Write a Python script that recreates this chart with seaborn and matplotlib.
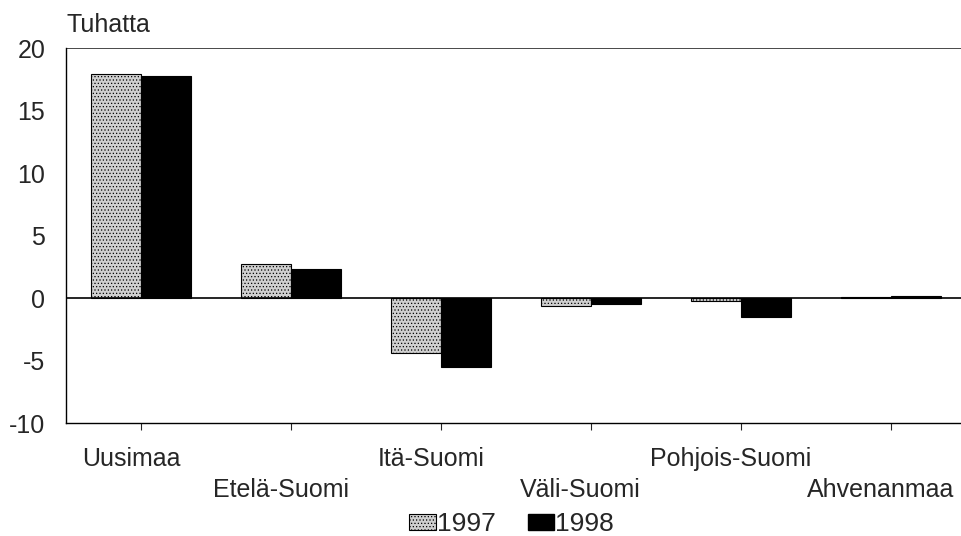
import numpy as np
import pandas as pd
import matplotlib.pyplot as plt
import matplotlib.transforms as mtransforms
import seaborn as sns

# regions and yearly change (thousands)
regions = ["Uusimaa", "Etelä-Suomi", "Itä-Suomi", "Väli-Suomi", "Pohjois-Suomi", "Ahvenanmaa"]
v1997 = [17.9, 2.7, -4.4, -0.6, -0.2, 0.05]
v1998 = [17.8, 2.3, -5.5, -0.5, -1.5, 0.15]
years = ["1997", "1998"]

df = pd.DataFrame({
    "region": regions * 2,
    "year": [years[0]] * len(regions) + [years[1]] * len(regions),
    "value": v1997 + v1998,
})

sns.set_style("white")
plt.rcParams['font.family'] = ['Liberation Sans', 'DejaVu Sans']
plt.rcParams['axes.unicode_minus'] = False
plt.rcParams['hatch.linewidth'] = 0.5

fs = 18
fig = plt.figure(figsize=(9.62, 5.36), dpi=100)
ax = fig.add_axes([0.0686, 0.2108, 0.935, 0.6996])

sns.barplot(data=df, x="region", y="value", hue="year", palette=["#cfcfcf", "black"],
            width=0.667, gap=0, edgecolor="black", linewidth=0.8, ax=ax, legend=False)

# dotted look for 1997 bars
for p in ax.patches[:len(regions)]:
    p.set_hatch(".....")

ax.axhline(0, color="black", lw=1.2, zorder=5)
ax.set_ylim(-10, 20)
ax.set_yticks([-10, -5, 0, 5, 10, 15, 20])
ax.set_xlim(-0.5, len(regions) - 0.5)
ax.tick_params(axis="y", labelsize=fs, length=0, pad=15)
ax.tick_params(axis="x", labelsize=fs, length=5, width=0.8, direction="out", bottom=True, pad=12)
ax.set_xticks(range(len(regions)))
ax.set_xticklabels([r if i % 2 == 0 else "\n" + r for i, r in enumerate(regions)], linespacing=1.4)
# labels sit a little left of their ticks, as in the original
shift = mtransforms.ScaledTranslation(-10 / 100, 0, fig.dpi_scale_trans)
for lab in ax.get_xticklabels():
    lab.set_transform(lab.get_transform() + shift)
ax.set_xlabel("")
ax.set_ylabel("")
for s in ["left", "bottom", "top"]:
    ax.spines[s].set_visible(True)
    ax.spines[s].set_color("black")
    ax.spines[s].set_linewidth(1.0)
ax.spines["right"].set_visible(False)
ax.spines["top"].set_linewidth(0.5)

fig.text(0.069, 0.953, "Tuhatta", fontsize=fs, ha="left", va="center")

handles = [plt.Rectangle((0, 0), 1, 1, facecolor="#cfcfcf", edgecolor="black", hatch=".....", lw=0.8),
           plt.Rectangle((0, 0), 1, 1, facecolor="black", edgecolor="black")]
fig.legend(handles, years, loc="center", bbox_to_anchor=(0.532, 0.022), ncol=2, frameon=False,
           fontsize=fs + 1, handlelength=1.0, handleheight=0.6, handletextpad=0.05, columnspacing=1.2,
           borderpad=0)

fig.savefig("out.png", dpi=100)
